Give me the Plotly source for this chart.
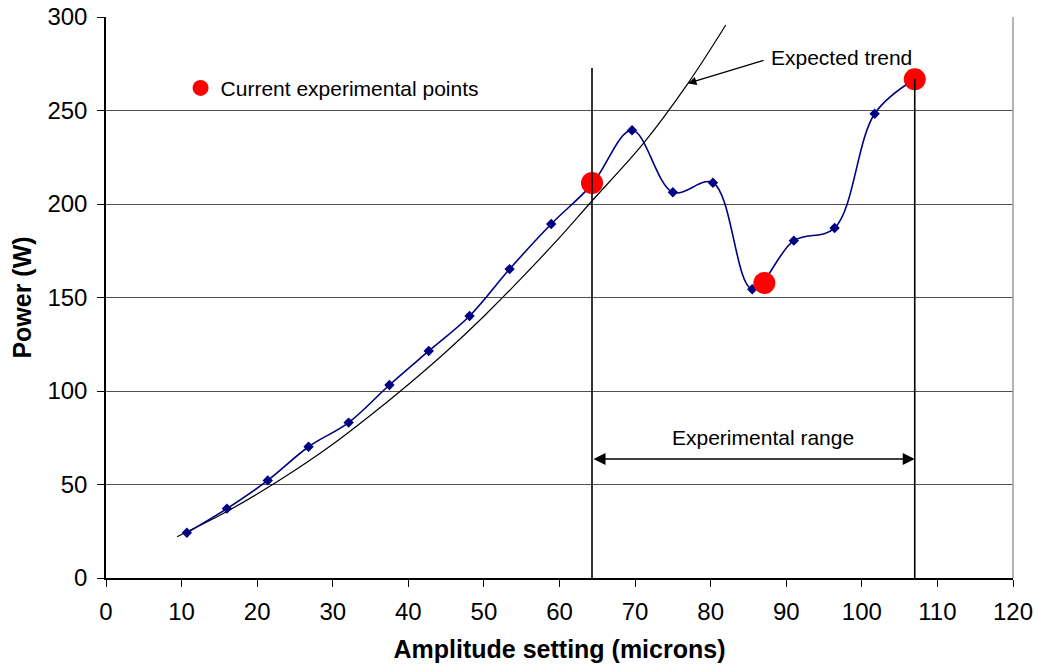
import plotly.graph_objects as go

# ---- data ----
amp_x = [10.7, 16.0, 21.4, 26.8, 32.1, 37.5, 42.7, 48.1, 53.4, 58.9,
         64.3, 69.6, 75.0, 80.3, 85.5, 91.0, 96.4, 101.7, 107.0]
power_y = [24.2, 37.1, 52.2, 70.2, 83.1, 103.2, 121.4, 140.1, 165.2, 189.3,
           210.5, 239.4, 206.3, 211.4, 154.4, 180.4, 187.2, 248.3, 266.7]

current_x = [64.3, 87.1, 107.0]
current_y = [211.2, 157.8, 266.7]

trend_x = [9.4, 15, 20, 25, 30, 35, 40, 45, 50, 55, 60, 64.2, 71.1, 77.0, 82.0]
trend_y = [22.1, 33.4, 44.9, 57.6, 71.5, 87.0, 103.5, 121.0, 140.0, 160.5, 182.0, 201.2, 232.4, 264.5, 295.7]

range_x = [64.3, 107.0]          # experimental range bounds
range_tops = [272.7, 266.7]      # top of the vertical range markers
range_arrow_y = 63.6
range_label = "Experimental range"
range_label_pos = (86.9, 74.9)

trend_label = "Expected trend"
trend_label_pos = (97.3, 278.6)
trend_arrow_tail = (87.2, 277.0)
trend_arrow_head = (77.0, 264.5)

x_ticks = list(range(0, 121, 10))
y_ticks = list(range(0, 301, 50))

FONT = "Liberation Sans, Arial, Helvetica, sans-serif"

fig = go.Figure()

fig.add_trace(go.Scatter(
    x=trend_x, y=trend_y, mode="lines",
    line=dict(color="black", width=1.2, shape="spline", smoothing=1.0),
    showlegend=False, hoverinfo="skip"))

fig.add_trace(go.Scatter(
    x=amp_x, y=power_y, mode="lines+markers",
    line=dict(color="#000080", width=1.6, shape="spline", smoothing=1.0),
    marker=dict(symbol="diamond", size=8, color="#000080"),
    showlegend=False))

# vertical range markers
for xv, top in zip(range_x, range_tops):
    fig.add_shape(type="line", x0=xv, x1=xv, y0=0, y1=top, xref="x", yref="y",
                  line=dict(color="black", width=1.6), layer="above")

fig.add_trace(go.Scatter(
    x=current_x, y=current_y, mode="markers",
    marker=dict(symbol="circle", size=22, color="#ff0000"),
    name="Current experimental points", showlegend=True))

# right border of plot area
fig.add_shape(type="line", xref="paper", yref="paper", x0=1, x1=1, y0=0, y1=1,
              line=dict(color="#9a9a9a", width=1.5))

# annotations
fig.add_annotation(x=trend_label_pos[0], y=trend_label_pos[1], text=trend_label,
                   showarrow=False, font=dict(family=FONT, size=21, color="black"))
fig.add_annotation(x=trend_arrow_head[0], y=trend_arrow_head[1],
                   ax=trend_arrow_tail[0], ay=trend_arrow_tail[1],
                   axref="x", ayref="y", text="", showarrow=True,
                   arrowhead=2, arrowsize=1.3, arrowwidth=1.3, arrowcolor="black",
                   standoff=0, startstandoff=0)
fig.add_annotation(x=range_label_pos[0], y=range_label_pos[1], text=range_label,
                   showarrow=False, font=dict(family=FONT, size=21, color="black"))
fig.add_annotation(x=range_x[1], y=range_arrow_y, ax=range_x[0], ay=range_arrow_y,
                   axref="x", ayref="y", text="", showarrow=True,
                   arrowhead=2, startarrowhead=2, arrowside="end+start",
                   arrowsize=1.5, startarrowsize=1.5, arrowwidth=1.6,
                   arrowcolor="black", standoff=0, startstandoff=0)

fig.update_layout(
    width=1039, height=664,
    margin=dict(l=106, r=26, t=17, b=86, autoexpand=False),
    paper_bgcolor="white", plot_bgcolor="white",
    font=dict(family=FONT, color="black"),
    showlegend=True,
    legend=dict(x=0.0822, y=0.873, xanchor="left", yanchor="middle",
                font=dict(family=FONT, size=21, color="black"),
                bgcolor="rgba(0,0,0,0)", itemsizing="trace"),
    xaxis=dict(range=[0, 120], tickvals=x_ticks, ticks="outside", ticklen=7,
               tickcolor="black", tickwidth=1.2, automargin=False,
               ticklabelstandoff=4,
               showline=True, linecolor="black", linewidth=1.5, showgrid=False,
               zeroline=False, tickfont=dict(size=24),
               title=dict(text="<b>Amplitude setting (microns)</b>",
                          font=dict(size=25), standoff=17)),
    yaxis=dict(range=[0, 300], tickvals=y_ticks, ticks="outside", ticklen=7,
               tickcolor="black", tickwidth=1.2, automargin=False,
               ticklabelstandoff=5,
               showline=True, linecolor="black", linewidth=1.5,
               showgrid=True, gridcolor="#505050", gridwidth=1.3,
               zeroline=False, tickfont=dict(size=24),
               title=dict(text="<b>Power (W)</b>", font=dict(size=25), standoff=9)),
)

fig.write_html("out.html")
